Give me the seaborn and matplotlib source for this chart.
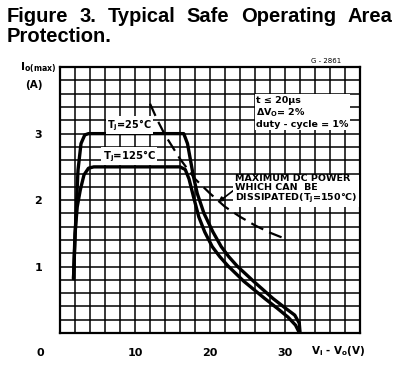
import numpy as np
import pandas as pd
import matplotlib
matplotlib.use("Agg")
import matplotlib.pyplot as plt
from matplotlib.ticker import MultipleLocator
import seaborn as sns

# curves
v_25 = [1.8, 2.1, 2.4, 2.8, 3.3, 3.8, 16.5, 17.0, 17.4, 17.8, 18.3, 19.2, 20.4, 21.5, 22.5, 23.6, 25.8, 28.4, 30.0, 31.3, 31.9, 32.0]
i_25 = [0.82, 1.7, 2.45, 2.85, 2.98, 3.0, 3.0, 2.85, 2.6, 2.35, 2.1, 1.8, 1.52, 1.3, 1.15, 1.01, 0.78, 0.52, 0.38, 0.27, 0.15, 0.02]

v_125 = [1.8, 2.0, 2.3, 2.7, 3.2, 3.8, 4.5, 16.0, 16.7, 17.2, 17.8, 18.5, 19.3, 20.3, 21.3, 22.4, 24.5, 27.3, 29.0, 30.4, 31.4, 31.8]
i_125 = [0.82, 1.5, 1.9, 2.15, 2.38, 2.48, 2.5, 2.5, 2.46, 2.32, 2.05, 1.75, 1.52, 1.3, 1.15, 1.01, 0.78, 0.52, 0.37, 0.24, 0.12, 0.03]

v_pdc = [12, 13, 14, 15, 16, 18, 20, 22, 24, 26, 28, 30]
i_pdc = [3.45, 3.2, 2.98, 2.8, 2.62, 2.32, 2.1, 1.9, 1.75, 1.62, 1.51, 1.42]

x_ticks = [10, 20, 30]
y_ticks = [1, 2, 3]

sns.set_style("white")
plt.rcParams['font.family'] = ['DejaVu Sans']
plt.rcParams['text.color'] = 'black'
plt.rcParams['xtick.color'] = 'black'
plt.rcParams['ytick.color'] = 'black'

fig = plt.figure(figsize=(4.0, 3.73), dpi=100)
ax = fig.add_axes([0.15, 0.107, 0.75, 0.713])

df25 = pd.DataFrame({'v': v_25, 'i': i_25})
df125 = pd.DataFrame({'v': v_125, 'i': i_125})
dfp = pd.DataFrame({'v': v_pdc, 'i': i_pdc})

sns.lineplot(data=df25, x='v', y='i', sort=False, estimator=None, color='black', lw=2.4, ax=ax, zorder=5)
sns.lineplot(data=df125, x='v', y='i', sort=False, estimator=None, color='black', lw=2.4, ax=ax, zorder=5)
sns.lineplot(data=dfp, x='v', y='i', sort=False, estimator=None, color='black', lw=1.6, ax=ax,
             dashes=False, zorder=5, linestyle=(0, (6, 3)))

ax.set_xlim(0, 40)
ax.set_ylim(0, 4)
ax.xaxis.set_minor_locator(MultipleLocator(2))
ax.yaxis.set_minor_locator(MultipleLocator(0.2))
ax.set_xticks(x_ticks)
ax.set_yticks(y_ticks)
ax.grid(which='both', color='black', lw=1.1)
ax.set_axisbelow(True)
for s in ax.spines.values():
    s.set_color('black')
    s.set_linewidth(1.6)
ax.tick_params(length=0, which='both', labelsize=8)
ax.tick_params(axis='x', pad=11)
ax.tick_params(axis='y', pad=13)
for lab in ax.get_xticklabels() + ax.get_yticklabels():
    lab.set_fontweight('bold')
ax.set_xlabel('')
ax.set_ylabel('')

box = dict(facecolor='white', edgecolor='none', pad=1.0)
ax.text(6.3, 3.13, r'$\mathbf{T_j}$=25°C', fontsize=7, fontweight='bold', va='center', ha='left', bbox=box, zorder=6)
ax.text(5.7, 2.66, r'$\mathbf{T_j}$=125°C', fontsize=7.3, fontweight='bold', va='center', ha='left', bbox=box, zorder=6)
ax.text(26.2, 3.57, 't ≤ 20µs\n' + r'ΔV$\mathbf{_O}$= 2%' + '\nduty - cycle = 1%', fontsize=6.8,
        fontweight='bold', va='top', ha='left', linespacing=1.15, bbox=box, zorder=6)
ax.annotate('MAXIMUM DC POWER\nWHICH CAN  BE\nDISSIPATED(' + r'$\mathbf{T_j}$' + '=150°C)',
            xy=(21.1, 1.97), xytext=(23.3, 2.4), fontsize=6.8, fontweight='bold', va='top', ha='left',
            linespacing=1.05, bbox=box, zorder=6,
            arrowprops=dict(arrowstyle='-|>', color='black', lw=1.2, mutation_scale=7,
                            shrinkA=0, shrinkB=0, relpos=(0, 0.5)))

fig.text(40 / 400, 1 - 353 / 373, '0', fontsize=8, fontweight='bold', ha='center', va='center')
fig.text(38 / 400, 1 - 68 / 373, r'$\mathbf{I_{o(max)}}$', fontsize=8, ha='center', va='center')
fig.text(34 / 400, 1 - 85 / 373, '(A)', fontsize=7.5, fontweight='bold', ha='center', va='center')
fig.text(338 / 400, 1 - 351 / 373, r'$\mathbf{V_i}$ - $\mathbf{V_o}$(V)', fontsize=7.5, fontweight='bold',
         ha='center', va='center')
fig.text(326 / 400, 1 - 61 / 373, 'G - 2861', fontsize=5, ha='center', va='center')

# justified title: spread the words over the full width
title_words = ['Figure', '3.', 'Typical', 'Safe', 'Operating', 'Area']
x0, x1 = 7, 392
renderer = fig.canvas.get_renderer()
txts = [fig.text(0, 1 - 22 / 373, w, fontsize=14.5, fontweight='bold', family='Liberation Sans',
                 ha='left', va='baseline') for w in title_words]
widths = [t.get_window_extent(renderer).width for t in txts]
gap = (x1 - x0 - sum(widths)) / (len(txts) - 1)
xp = x0
for t, wd in zip(txts, widths):
    t.set_x(xp / 400)
    xp += wd + gap
fig.text(7 / 400, 1 - 42 / 373, 'Protection.', fontsize=14.5, fontweight='bold', family='Liberation Sans',
         ha='left', va='baseline')

fig.savefig('out.png', dpi=100)
